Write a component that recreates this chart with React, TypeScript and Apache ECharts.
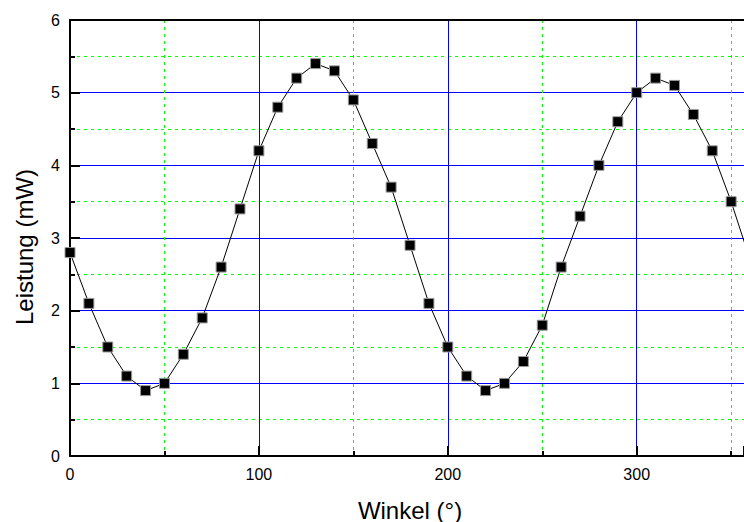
import React, { useEffect, useRef } from "react";
import * as echarts from "echarts";

// Angle in degrees and measured power in mW
const angles: number[] = [
  0, 10, 20, 30, 40, 50, 60, 70, 80, 90, 100, 110, 120, 130, 140, 150, 160, 170, 180,
  190, 200, 210, 220, 230, 240, 250, 260, 270, 280, 290, 300, 310, 320, 330, 340, 350, 360,
];
const power: number[] = [
  2.8, 2.1, 1.5, 1.1, 0.9, 1.0, 1.4, 1.9, 2.6, 3.4, 4.2, 4.8, 5.2, 5.4, 5.3, 4.9, 4.3, 3.7, 2.9,
  2.1, 1.5, 1.1, 0.9, 1.0, 1.3, 1.8, 2.6, 3.3, 4.0, 4.6, 5.0, 5.2, 5.1, 4.7, 4.2, 3.5, 2.7,
];

const xLabel = "Winkel (°)";
const yLabel = "Leistung (mW)";

// visible angle range (the plot runs off the right edge)
const X_MAX = 356.8;

const FONT = "Liberation Sans, Arial, sans-serif";

export default function App() {
  const ref = useRef<HTMLDivElement>(null);

  useEffect(() => {
    if (!ref.current) return;
    const chart = echarts.init(ref.current, undefined, { renderer: "svg" });

    const tick = { show: true, inside: true, length: 10, lineStyle: { color: "#000", width: 2 } };
    const minorTick = { show: true, splitNumber: 2, length: 5, lineStyle: { color: "#000", width: 2 } };
    const minorSplit = { show: true, lineStyle: { color: "#00ff00", width: 1, type: [3, 4] as any } };

    chart.setOption({
      animation: false,
      backgroundColor: "#fff",
      textStyle: { fontFamily: FONT },
      grid: { left: 70, top: 20, right: 0, bottom: 66, containLabel: false },
      graphic: [
        {
          type: "text",
          x: 410,
          y: 510,
          style: {
            text: xLabel,
            fontSize: 24,
            fontFamily: FONT,
            fill: "#000",
            textAlign: "center",
            textVerticalAlign: "middle",
          },
        },
        {
          type: "text",
          x: 24,
          y: 247,
          rotation: Math.PI / 2,
          style: {
            text: yLabel,
            fontSize: 24,
            fontFamily: FONT,
            fill: "#000",
            textAlign: "center",
            textVerticalAlign: "middle",
          },
        },
      ],
      xAxis: [
        {
          type: "value",
          min: 0,
          max: X_MAX,
          interval: 100,
          axisLine: { show: true, onZero: false, lineStyle: { color: "#000", width: 2 } },
          axisTick: tick,
          minorTick,
          axisLabel: { color: "#000", fontSize: 16, margin: 10, showMaxLabel: false, fontFamily: FONT },
          splitLine: { show: true, lineStyle: { color: "#0000ff", width: 1 } },
          minorSplitLine: minorSplit,
        },
        {
          type: "value",
          position: "top",
          min: 0,
          max: X_MAX,
          interval: 100,
          axisLine: { show: true, onZero: false, lineStyle: { color: "#000", width: 2 } },
          axisTick: { show: false },
          axisLabel: { show: false },
          splitLine: { show: false },
        },
      ],
      yAxis: {
        type: "value",
        min: 0,
        max: 6,
        interval: 1,
        axisLine: { show: true, onZero: false, lineStyle: { color: "#000", width: 2 } },
        axisTick: tick,
        minorTick,
        axisLabel: { color: "#000", fontSize: 16, margin: 10, fontFamily: FONT },
        splitLine: { show: true, lineStyle: { color: "#0000ff", width: 1 } },
        minorSplitLine: minorSplit,
      },
      series: [
        {
          type: "line",
          xAxisIndex: 0,
          data: angles.map((a, i) => [a, power[i]]),
          symbol: "rect",
          symbolSize: 10,
          showSymbol: true,
          clip: true,
          lineStyle: { color: "#000", width: 1 },
          itemStyle: { color: "#000", borderColor: "#9a9a9a", borderWidth: 1 },
          z: 5,
        },
      ],
    });

    return () => chart.dispose();
  }, []);

  return (
    <div
      ref={ref}
      style={{ position: "fixed", left: 0, top: 0, width: 744, height: 522, overflow: "hidden" }}
    />
  );
}
